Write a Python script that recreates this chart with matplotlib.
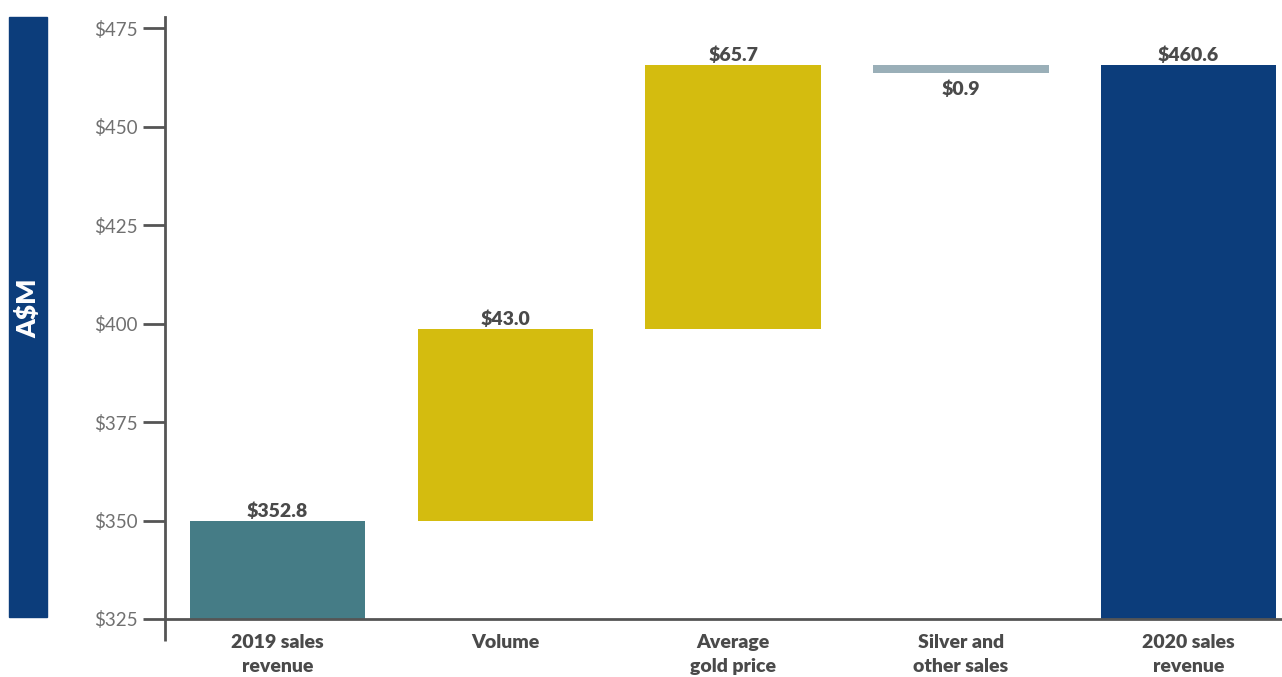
import matplotlib.pyplot as plt
from matplotlib.patches import Rectangle

plt.rcParams['font.family'] = ['Lato', 'DejaVu Sans']

# data
categories = ["2019 sales\nrevenue", "Volume", "Average\ngold price",
              "Silver and\nother sales", "2020 sales\nrevenue"]
bar_start = [325.0, 349.9, 398.6, 465.6, 325.0]
bar_end = [349.9, 398.6, 465.6, 463.6, 465.6]
value_labels = ["$352.8", "$43.0", "$65.7", "$0.9", "$460.6"]
bar_colors = ["#457c86", "#d4bc0f", "#d4bc0f", "#9aafb8", "#0c3d7b"]
yticks = [325, 350, 375, 400, 425, 450, 475]

dark = "#555555"
text_c = "#4a4a4a"

fig = plt.figure(figsize=(12.82, 6.77), dpi=100)
ax = fig.add_axes([165/1282, 58/677, 1 - 165/1282, (619-17)/677])

x = range(len(categories))
for i in x:
    lo = min(bar_start[i], bar_end[i])
    hi = max(bar_start[i], bar_end[i])
    ax.bar(i, hi - lo, bottom=lo, width=0.77, color=bar_colors[i], zorder=2)
    if bar_end[i] < bar_start[i]:
        ax.text(i, lo - 2.0, value_labels[i], ha='center', va='top',
                fontsize=14, fontweight='heavy', color=text_c)
    else:
        ax.text(i, hi + 0.2, value_labels[i], ha='center', va='bottom',
                fontsize=14, fontweight='heavy', color=text_c)

ax.set_xlim(-0.494, 4.41)
ax.set_ylim(325, 477.8)

ax.set_yticks(yticks)
ax.set_yticklabels(["$%d" % v for v in yticks], fontsize=13.5,
                   fontweight='normal', color="#707070")
ax.tick_params(axis='y', length=16, width=2, color=dark, pad=4)

ax.set_xticks(list(x))
ax.set_xticklabels(categories, fontsize=14, fontweight='heavy',
                   color=text_c, linespacing=1.45)
ax.tick_params(axis='x', length=0, pad=11)

for s in ['top', 'right']:
    ax.spines[s].set_visible(False)
ax.spines['left'].set_color(dark)
ax.spines['left'].set_linewidth(2)
ax.spines['bottom'].set_color(dark)
ax.spines['bottom'].set_linewidth(2)
# left spine runs a bit below the x axis
ax.plot([0, 0], [0, -22/602], transform=ax.transAxes, color=dark,
        lw=2, clip_on=False, solid_capstyle='butt')

# blue band with the unit label
fig.patches.append(Rectangle((9/1282, 60/677), 38/1282, 600/677,
                             transform=fig.transFigure, color="#0c3d7b"))
fig.text(28/1282, (677-308)/677, "A$M", rotation=90, ha='center',
         va='center', color='white', fontsize=19, fontweight='heavy')

fig.savefig("out.png", dpi=100)
